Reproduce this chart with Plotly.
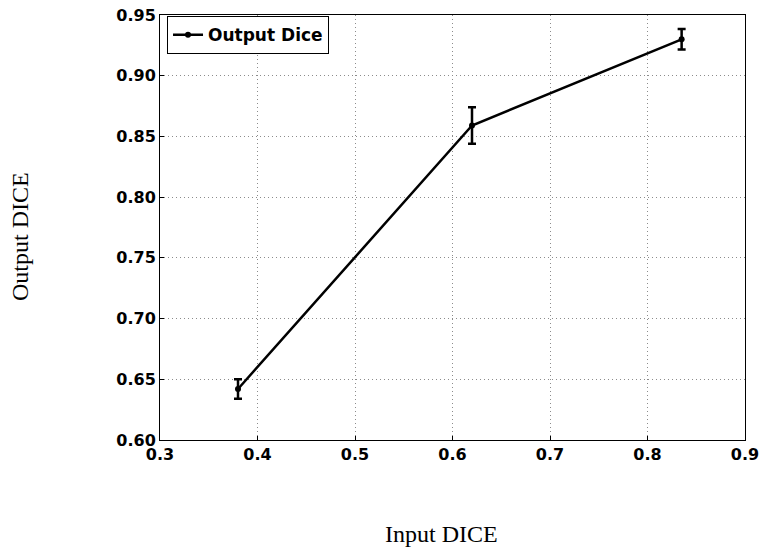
import plotly.graph_objects as go

# Input vs output Dice scores with standard deviation
input_dice = [0.38, 0.62, 0.835]
output_dice = [0.642, 0.859, 0.930]
output_err = [0.008, 0.015, 0.0085]

x_ticks = [0.3, 0.4, 0.5, 0.6, 0.7, 0.8, 0.9]
y_ticks = [0.60, 0.65, 0.70, 0.75, 0.80, 0.85, 0.90, 0.95]

tick_font = dict(family="DejaVu Sans", size=16, color="black", weight="bold")
title_font = dict(family="Liberation Serif", size=24, color="black")

fig = go.Figure()
fig.add_trace(go.Scatter(
    x=input_dice, y=output_dice,
    mode="lines+markers",
    name="Output Dice",
    line=dict(color="black", width=2.5),
    marker=dict(color="black", size=6),
    error_y=dict(type="data", array=output_err, visible=True,
                 color="black", thickness=2.5, width=4),
))

axis_common = dict(
    showline=True, linecolor="black", linewidth=1, mirror=True,
    showgrid=True, gridcolor="#8c8c8c", griddash="1px,3px", gridwidth=1,
    ticks="inside", ticklen=4, tickcolor="black",
    tickfont=tick_font, zeroline=False, automargin=False,
)

fig.update_xaxes(range=[0.3, 0.9], tickvals=x_ticks,
                 ticktext=[f"{v:.1f}" for v in x_ticks], **axis_common)
fig.update_yaxes(range=[0.60, 0.95], tickvals=y_ticks,
                 ticktext=[f"{v:.2f}" for v in y_ticks], **axis_common)

fig.add_annotation(text="Input DICE", xref="paper", yref="paper",
                   x=0.482, y=-0.222, yanchor="middle", xanchor="center",
                   showarrow=False, font=title_font)
fig.add_annotation(text="Output DICE", xref="paper", yref="paper",
                   x=-0.239, y=0.478, textangle=-90, xanchor="center",
                   yanchor="middle", showarrow=False, font=title_font)

fig.update_layout(
    width=760, height=550,
    margin=dict(l=160, r=15, t=15, b=110),
    plot_bgcolor="white", paper_bgcolor="white",
    showlegend=True,
    legend=dict(x=0.012, y=0.997, xanchor="left", yanchor="top",
                bordercolor="black", borderwidth=1, bgcolor="white",
                font=dict(family="DejaVu Sans", size=17, color="black",
                          weight="bold")),
)

fig.write_html("out.html")
